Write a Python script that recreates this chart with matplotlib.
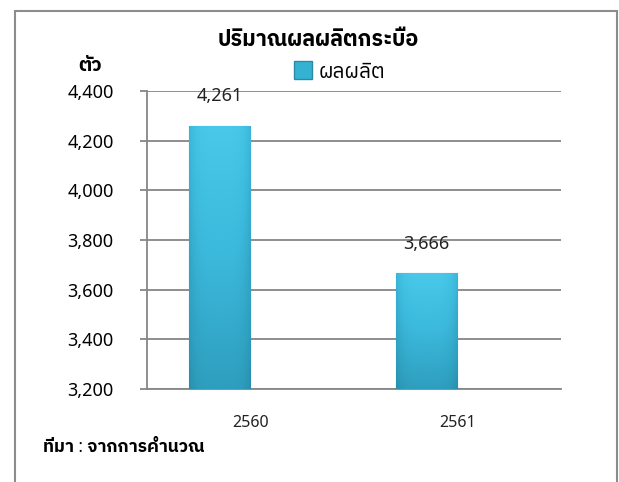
import numpy as np
import matplotlib
matplotlib.use('Agg')
import matplotlib.pyplot as plt
from matplotlib.patches import Rectangle
from matplotlib.colors import LinearSegmentedColormap

# Thai text needs a font with Thai glyphs (and a bold face), digits come from Noto Sans
plt.rcParams['font.family'] = ['Noto Sans', 'IBM Plex Sans Thai', 'DejaVu Sans']

# data
years = ['2560', '2561']
output = [4261, 3666]
yticks = [3200, 3400, 3600, 3800, 4000, 4200, 4400]

title = 'ปริมาณผลผลิตกระบือ'
series_name = 'ผลผลิต'
unit = 'ตัว'
source = 'ที่มา : จากการคำนวณ'

grid_col = '#868686'
bar_col = '#34b2d4'

fig = plt.figure(figsize=(6.19, 4.82), dpi=100)
ax = fig.add_axes([147 / 619, 1 - 389 / 482, (561 - 147) / 619, (389 - 91) / 482])

ax.set_xlim(-0.5, 1.5)
ax.set_ylim(3200, 4400)

x = np.arange(len(years))
bars = ax.bar(x - 0.15, output, width=0.295, color=bar_col,
              edgecolor='#2a8aa6', linewidth=0.8, zorder=3)

# gradient fill inside each bar (light top, darker bottom and edges)
grad_cmap = LinearSegmentedColormap.from_list('b', ['#1f6f87', '#2e9dbd', '#3cbadd', '#4ccbec'])
gy = np.linspace(0, 1, 100)[:, None]
gx = np.linspace(-1, 1, 60)[None, :]
grad = (0.35 + 0.6 * gy) * (1 - 0.35 * gx ** 4)
ymin = ax.get_ylim()[0]
for b in bars:
    im = ax.imshow(grad, cmap=grad_cmap, vmin=0, vmax=1, aspect='auto', origin='lower',
                   extent=[b.get_x(), b.get_x() + b.get_width(), ymin, b.get_height()],
                   zorder=3.5)
    im.set_clip_path(b)
ax.set_xlim(-0.5, 1.5)
ax.set_ylim(3200, 4400)

for xi, v in zip(x, output):
    ax.annotate(f'{v:,}', (xi - 0.15, v), xytext=(0, 21), textcoords='offset points',
                ha='center', va='center', fontsize=13, color='#222222', zorder=5)

ax.set_yticks(yticks)
ax.set_yticklabels([f'{t:,}' for t in yticks])
ax.set_xticks(x)
ax.set_xticklabels(years)

ax.yaxis.grid(True, color=grid_col, linewidth=1.3, zorder=0)
ax.set_axisbelow(True)
for s in ['top', 'right']:
    ax.spines[s].set_visible(False)
for s in ['left', 'bottom']:
    ax.spines[s].set_color(grid_col)
    ax.spines[s].set_linewidth(1.3)
ax.tick_params(axis='y', length=5, width=1.3, color=grid_col, pad=19, labelsize=13)
ax.tick_params(axis='x', length=0, pad=19, labelsize=11.5, labelcolor='#222222')

fig.text(318 / 619, 1 - 41 / 482, title, ha='center', va='center',
         fontsize=15.5, fontweight='bold')
fig.text(90 / 619, 1 - 66 / 482, unit, ha='center', va='center',
         fontsize=14, fontweight='bold')
fig.text(43 / 619, 1 - 447 / 482, source, ha='left', va='center',
         fontsize=12.5, fontweight='bold')

leg_handle = Rectangle((0, 0), 1, 1, facecolor=bar_col, edgecolor='#2a8aa6')
fig.legend([leg_handle], [series_name], loc='center left',
           bbox_to_anchor=(294 / 619, 1 - 72 / 482), frameon=False, fontsize=15,
           handlelength=0.85, handleheight=0.95, handletextpad=0.35,
           borderpad=0, borderaxespad=0)

# outer chart frame
fig.patches.append(Rectangle((15 / 619, -0.05), (617 - 15) / 619, 1.05 - 11 / 482,
                             transform=fig.transFigure, fill=False,
                             edgecolor='#8c8c8c', linewidth=1.5))

fig.savefig('out.png', dpi=100)
